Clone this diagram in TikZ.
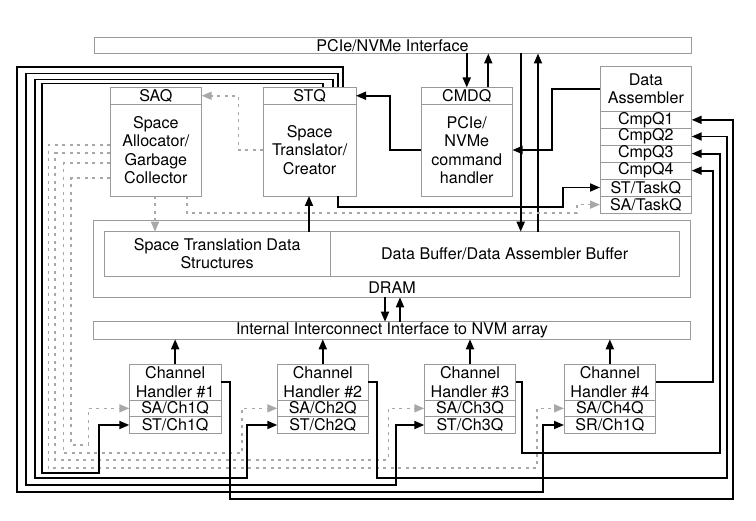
\documentclass[tikz,border=0pt]{standalone}
\usepackage{fontspec}
\setmainfont{TeX Gyre Heros}
\usetikzlibrary{arrows.meta}
\definecolor{bgray}{HTML}{9A9A9A}
\definecolor{dgray}{HTML}{A8A8A8}
\newcommand\tf{\fontsize{16.1}{18.3}\selectfont}
\tikzset{
  box/.style={draw=bgray, line width=0.9pt, inner sep=0pt, outer sep=0pt, align=center, font=\tf},
  lbl/.style={inner sep=0pt, align=center, font=\tf},
  bl/.style={line width=1.8pt, black},
  gd/.style={draw=dgray, line width=1.6pt, dash pattern=on 3pt off 4.5pt},
  arr/.style={-{Triangle[length=10pt,width=8pt]}},
  garr/.style={-{Triangle[length=10pt,width=8pt,fill=dgray,color=dgray]}}
}
% #1 name, #2 x1, #3 y1, #4 x2, #5 y2, #6 text
\newcommand\mkbox[6]{\node[box, minimum width={#4-#2}, minimum height={#5-#3}] (#1) at ({(#2+#4)/2},{(#3+#5)/2}) {#6};}
\begin{document}
\begin{tikzpicture}[x=1pt,y=-1pt]
\useasboundingbox (0,0) rectangle (756,521);
% boxes
\mkbox{pcie}{94}{37}{691}{53.5}{PCIe/NVMe Interface}
\mkbox{saqh}{110}{87.5}{201.7}{104}{SAQ}
\mkbox{saqb}{110}{104}{201.7}{196}{Space\\Allocator/\\Garbage\\Collector}
\mkbox{stqh}{263.3}{87.5}{356}{104}{STQ}
\mkbox{stqb}{263.3}{104}{356}{196}{Space\\Translator/\\Creator}
\mkbox{cmdh}{421}{87.5}{512.5}{104}{CMDQ}
\mkbox{cmdb}{421}{104}{512.5}{196}{PCIe/\\NVMe\\command\\handler}
\mkbox{da}{600}{66}{691.7}{111.7}{Data\\Assembler}
\mkbox{cmp1}{600}{111.7}{691.7}{128}{CmpQ1}
\mkbox{cmp2}{600}{128}{691.7}{145}{CmpQ2}
\mkbox{cmp3}{600}{145}{691.7}{162.3}{CmpQ3}
\mkbox{cmp4}{600}{162.3}{691.7}{179}{CmpQ4}
\mkbox{sttask}{600}{179}{691.7}{196}{ST/TaskQ}
\mkbox{satask}{600}{196}{691.7}{213.3}{SA/TaskQ}
\mkbox{dram}{93.3}{220}{690.7}{297.3}{}
\mkbox{sptds}{104.3}{231.7}{330}{276}{Space Translation Data\\Structures}
\mkbox{dbuf}{330}{231.7}{679.3}{276}{Data Buffer/Data Assembler Buffer}
\node[lbl] (dramlbl) at (392,288) {DRAM};
\mkbox{ic}{93.3}{321.7}{690.7}{339.3}{Internal Interconnect Interface to NVM array}
% channel handlers
\mkbox{ch1t}{129.3}{364}{221}{400}{Channel\\Handler \#1}
\mkbox{ch1sa}{129.3}{400}{221}{416.7}{SA/Ch1Q}
\mkbox{ch1st}{129.3}{416.7}{221}{433.3}{ST/Ch1Q}
\mkbox{ch2t}{277.3}{364}{368.3}{400}{Channel\\Handler \#2}
\mkbox{ch2sa}{277.3}{400}{368.3}{416.7}{SA/Ch2Q}
\mkbox{ch2st}{277.3}{416.7}{368.3}{433.3}{ST/Ch2Q}
\mkbox{ch3t}{424.3}{364}{515.7}{400}{Channel\\Handler \#3}
\mkbox{ch3sa}{424.3}{400}{515.7}{416.7}{SA/Ch3Q}
\mkbox{ch3st}{424.3}{416.7}{515.7}{433.3}{ST/Ch3Q}
\mkbox{ch4t}{564}{364}{655.7}{400}{Channel\\Handler \#4}
\mkbox{ch4sa}{564}{400}{655.7}{416.7}{SA/Ch4Q}
\mkbox{ch4st}{564}{416.7}{655.7}{433.3}{SR/Ch1Q}
% PCIe connections
\draw[bl,arr] (cmdh.north |- pcie.south) -- (cmdh.north);
\draw[bl,arr] (488.3,0 |- cmdh.north) -- (488.3,0 |- pcie.south);
\draw[bl,arr] (520.7,0 |- pcie.south) -- (520.7,0 |- dbuf.north);
\draw[bl,arr] (538,0 |- dbuf.north) -- (538,0 |- pcie.south);
% command handler / data assembler
\draw[bl,arr] (cmdb.west) -- (390,0 |- cmdb.west) |- (stqh.east);
\draw[bl,arr] (da.west) -| (551.7,0 |- cmdb.east) -- (cmdb.east);
\draw[bl,arr] (337.7,0 |- stqb.south) |- (563.3,206.7) |- (sttask.west);
\draw[bl,arr] (309,0 |- sptds.north) -- (309,0 |- stqb.south);
% SAQ dashed
\draw[gd,garr] (stqb.west) -| (238.3,0 |- saqh.east) -- (saqh.east);
\draw[gd,garr] (155,0 |- saqb.south) -- (155,0 |- sptds.north);
\draw[gd,garr] (186.7,0 |- saqb.south) |- (576.7,213.3) |- (satask.west);
\draw[gd,garr] (saqb.west |- 0,145) -| (48.3,468.3) -- (536.7,468.3) |- (ch4sa.west);
\draw[gd,garr] (saqb.west |- 0,153.3) -| (55,460) -- (388.3,460) |- (ch3sa.west);
\draw[gd,garr] (saqb.west |- 0,163.3) -| (63.3,453.3) -- (241.7,453.3) |- (ch2sa.west);
\draw[gd,garr] (saqb.west |- 0,178.3) -| (71,445) -- (88.3,445) |- (ch1sa.west);
% STQ to channel ST queues
\draw[bl,arr] (343.3,0 |- stqh.north) |- (16.7,67) |- (542.7,491.7) |- (ch4st.west);
\draw[bl,arr] (338.3,0 |- stqh.north) |- (26,73.5) |- (396,485) |- (ch3st.west);
\draw[bl,arr] (332.7,0 |- stqh.north) |- (35,79.5) |- (246.7,478.3) |- (ch2st.west);
\draw[bl,arr] (322.7,0 |- stqh.north) |- (41.7,83.5) |- (99,472.7) |- (ch1st.west);
% DRAM <-> interconnect
\draw[bl,arr] (385,0 |- dram.south) -- (385,0 |- ic.north);
\draw[bl,arr] (400,0 |- ic.north) -- (400,0 |- dram.south);
% channels to interconnect
\draw[bl,arr] (ch1t.north) -- (ch1t.north |- ic.south);
\draw[bl,arr] (ch2t.north) -- (ch2t.north |- ic.south);
\draw[bl,arr] (ch3t.north) -- (ch3t.north |- ic.south);
\draw[bl,arr] (ch4t.north) -- (ch4t.north |- ic.south);
% completions
\draw[bl,arr] (ch1t.east) -- (230,0 |- ch1t.east) |- (733.3,499) |- (cmp1.east);
\draw[bl,arr] (ch2t.east) -- (377.3,0 |- ch2t.east) |- (727.3,478.3) |- (cmp2.east);
\draw[bl,arr] (ch3t.east) -- (521.7,0 |- ch3t.east) |- (720,453.3) |- (cmp3.east);
\draw[bl,arr] (ch4t.east) -- (712.7,0 |- ch4t.east) |- (cmp4.east);
\end{tikzpicture}
\end{document}
